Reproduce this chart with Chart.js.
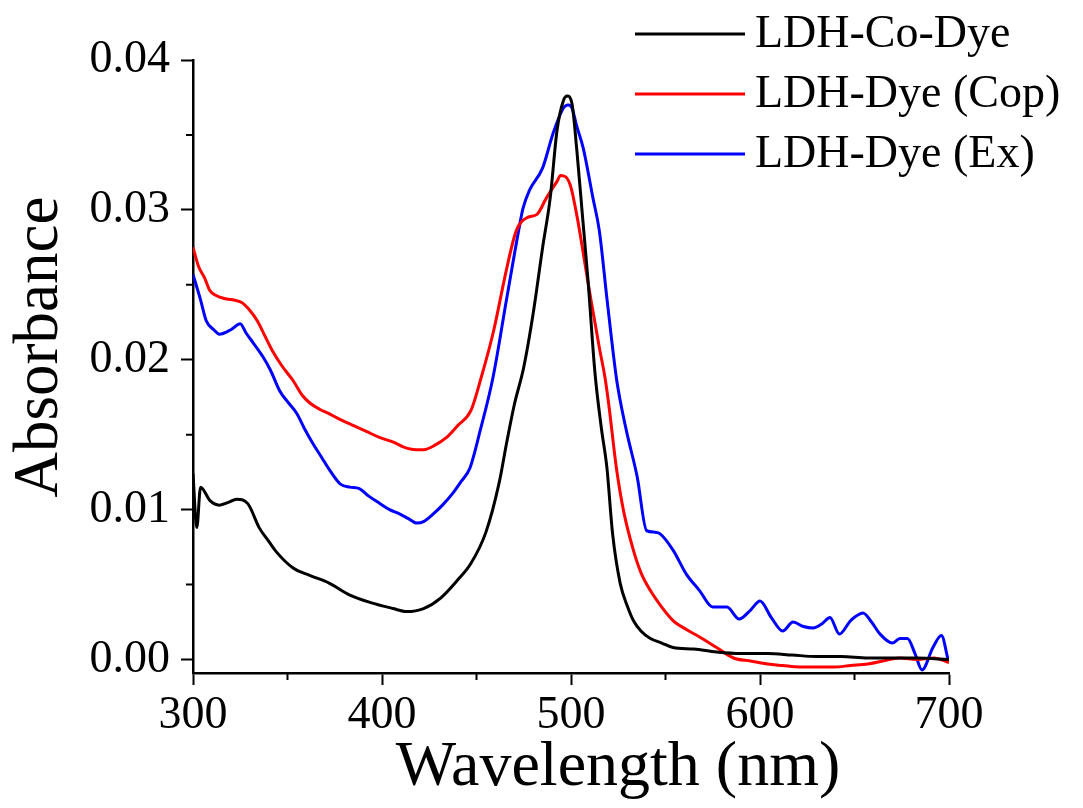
<!DOCTYPE html>
<html>
<head>
<meta charset="utf-8">
<script src="https://cdn.jsdelivr.net/npm/chart.js@4.4.1/dist/chart.umd.min.js"></script>
<style>
  body { margin: 0; background: #fff; }
  #wrap { width: 1083px; height: 808px; }
</style>
</head>
<body>
<div id="wrap"><canvas id="specChart" width="1083" height="808"></canvas></div>
<script>
// wavelengths (nm) and absorbance
const coDyeNm  = [300, 302, 304, 309, 314, 319, 323, 329, 335, 340, 344, 353, 362, 372, 383, 394, 406, 413, 422, 431, 440, 447, 455, 462, 466, 470, 475, 480, 485, 489, 492.6, 496, 498, 500.5, 503, 506, 509, 512.7, 516, 519, 522, 526, 530, 533, 537, 542, 548, 554, 565, 577, 590, 604, 617, 630, 643, 657, 670, 683, 700];
const coDyeAbs = [0.0124, 0.0088, 0.0115, 0.0106, 0.0103, 0.0105, 0.0107, 0.0104, 0.0088, 0.0079, 0.0072, 0.0061, 0.0056, 0.0051, 0.0043, 0.0038, 0.0034, 0.0032, 0.0034, 0.0041, 0.0053, 0.0064, 0.0085, 0.0118, 0.0145, 0.0170, 0.0195, 0.0231, 0.0275, 0.0308, 0.0353, 0.0373, 0.0376, 0.0371, 0.0341, 0.0297, 0.0253, 0.0191, 0.0155, 0.0128, 0.0084, 0.0051, 0.0035, 0.0026, 0.0019, 0.0014, 0.0011, 0.0008, 0.0007, 0.0005, 0.0004, 0.0004, 0.0003, 0.0002, 0.0002, 0.0001, 0.0001, 0.0001, 0.0000];

const copNm  = [300, 303, 306, 309, 312, 316, 321, 326, 330, 334, 338, 342, 347, 353, 358, 362, 367, 372, 378, 385, 392, 399, 406, 413, 418, 422, 428, 434, 440, 447, 452, 459, 466, 471, 477, 482, 487, 492.6, 494.5, 499.5, 503, 506.5, 510, 515, 518, 520, 524, 528, 533, 537, 542, 548, 554, 561, 568, 577, 586, 595, 604, 612, 621, 630, 639, 648, 657, 665, 674, 683, 692, 700];
const copAbs = [0.0275, 0.0262, 0.0255, 0.0246, 0.0243, 0.0241, 0.0240, 0.0238, 0.0233, 0.0226, 0.0216, 0.0206, 0.0196, 0.0186, 0.0176, 0.0171, 0.0167, 0.0164, 0.0160, 0.0156, 0.0152, 0.0148, 0.0145, 0.0141, 0.0140, 0.0140, 0.0143, 0.0148, 0.0156, 0.0166, 0.0186, 0.0219, 0.0261, 0.0286, 0.0295, 0.0297, 0.0308, 0.0319, 0.0323, 0.0317, 0.0297, 0.0271, 0.0244, 0.0208, 0.0188, 0.0170, 0.0128, 0.0098, 0.0073, 0.0058, 0.0046, 0.0035, 0.0026, 0.0020, 0.0015, 0.0008, 0.0001, -0.0001, -0.0003, -0.0004, -0.0005, -0.0005, -0.0005, -0.0004, -0.0003, -0.0001, 0.0001, 0.0000, 0.0001, -0.0002];

const exNm  = [300, 304, 307, 311, 314, 320, 325, 328, 332, 337, 341, 346, 350, 355, 359, 363.5, 368, 372.5, 378, 383, 388, 393, 399, 404, 409.5, 414, 418.5, 422, 427, 432, 437.5, 442, 446.6, 452, 458.7, 466, 473, 474.6, 478, 485, 490.5, 496, 498.5, 500.5, 503, 506.5, 511.6, 515, 519, 524, 526, 529.6, 535, 540, 544, 547, 554, 561, 568, 575, 582.5, 589, 595, 600, 606, 612, 617.5, 623, 628, 633, 637, 642, 648, 654.5, 659, 663.5, 670, 674, 678, 682, 685.7, 691.5, 696, 699.5];
const exAbs = [0.0257, 0.0240, 0.0226, 0.0220, 0.0217, 0.0220, 0.0224, 0.0218, 0.0211, 0.0202, 0.0193, 0.0179, 0.0172, 0.0164, 0.0154, 0.0144, 0.0135, 0.0126, 0.0117, 0.0115, 0.0114, 0.0109, 0.0104, 0.0100, 0.0097, 0.0094, 0.0091, 0.0092, 0.0097, 0.0103, 0.0111, 0.0119, 0.0128, 0.0153, 0.0188, 0.0241, 0.0291, 0.0301, 0.0313, 0.0328, 0.0351, 0.0368, 0.0370, 0.0368, 0.0356, 0.0341, 0.0308, 0.0286, 0.0241, 0.0188, 0.0173, 0.0151, 0.0122, 0.0086, 0.0085, 0.0084, 0.0073, 0.0057, 0.0046, 0.0035, 0.0035, 0.0027, 0.0033, 0.0039, 0.0028, 0.0019, 0.0025, 0.0022, 0.0021, 0.0024, 0.0028, 0.0017, 0.0026, 0.0031, 0.0025, 0.0017, 0.0011, 0.0014, 0.0014, 0.0004, -0.0007, 0.0008, 0.0016, 0.0000];

const seriesNames = ['LDH-Co-Dye', 'LDH-Dye (Cop)', 'LDH-Dye (Ex)'];
const seriesColors = ['#000000', '#ff0000', '#0000ff'];
const xTickValues = [300, 400, 500, 600, 700];
const yTickValues = [0, 0.01, 0.02, 0.03, 0.04];
const xMinorTicks = [350, 450, 550, 650];
const yMinorTicks = [0.005, 0.015, 0.025, 0.035];
const xTitle = 'Wavelength (nm)';
const yTitle = 'Absorbance';

const serif = 'Liberation Serif, Times New Roman, serif';

function toPoints(xs, ys) {
    return xs.map((x, i) => ({x: x, y: ys[i]}));
}

// minor ticks are half length, chart.js can't do that on one axis
const minorTicks = {
    id: 'minorTicks',
    afterDraw(chart) {
        const {ctx, chartArea, scales} = chart;
        ctx.save();
        ctx.strokeStyle = '#000';
        ctx.lineWidth = 2;
        ctx.beginPath();
        xMinorTicks.forEach(v => {
            const px = scales.x.getPixelForValue(v);
            ctx.moveTo(px, chartArea.bottom);
            ctx.lineTo(px, chartArea.bottom + 7);
        });
        yMinorTicks.forEach(v => {
            const py = scales.y.getPixelForValue(v);
            ctx.moveTo(chartArea.left, py);
            ctx.lineTo(chartArea.left - 7, py);
        });
        ctx.stroke();
        ctx.restore();
    }
};

// axis titles sit off-centre in the original, so place them by hand
const axisTitles = {
    id: 'axisTitles',
    afterDraw(chart) {
        const ctx = chart.ctx;
        ctx.save();
        ctx.fillStyle = '#000';
        ctx.textAlign = 'center';
        ctx.textBaseline = 'middle';
        ctx.font = '64px ' + serif;
        ctx.fillText(xTitle, 618, 768);
        ctx.translate(40, 347);
        ctx.rotate(-Math.PI / 2);
        ctx.font = '63px ' + serif;
        ctx.fillText(yTitle, 0, 0);
        ctx.restore();
    }
};

// legend as a column in the top right corner
const cornerLegend = {
    id: 'cornerLegend',
    afterDraw(chart) {
        const ctx = chart.ctx;
        ctx.save();
        ctx.font = '46px ' + serif;
        ctx.textBaseline = 'middle';
        ctx.textAlign = 'left';
        chart.data.datasets.forEach((ds, i) => {
            const y = 34 + i * 60;
            ctx.strokeStyle = ds.borderColor;
            ctx.lineWidth = 3;
            ctx.beginPath();
            ctx.moveTo(635, y);
            ctx.lineTo(745, y);
            ctx.stroke();
            ctx.fillStyle = '#000';
            ctx.fillText(ds.label, 755, y + 1);
        });
        ctx.restore();
    }
};

const ctx = document.getElementById('specChart').getContext('2d');
const specChart = new Chart(ctx, {
    type: 'line',
    data: {
        datasets: [
            {label: seriesNames[0], data: toPoints(coDyeNm, coDyeAbs), borderColor: seriesColors[0]},
            {label: seriesNames[1], data: toPoints(copNm, copAbs), borderColor: seriesColors[1]},
            {label: seriesNames[2], data: toPoints(exNm, exAbs), borderColor: seriesColors[2]}
        ]
    },
    options: {
        responsive: false,
        animation: false,
        layout: {
            padding: {top: 60, right: 134, bottom: 0, left: 0}
        },
        elements: {
            point: {radius: 0},
            line: {borderWidth: 3, cubicInterpolationMode: 'monotone'}
        },
        plugins: {
            legend: {display: false},
            tooltip: {enabled: false}
        },
        scales: {
            x: {
                type: 'linear',
                min: 300,
                max: 700,
                afterFit: (scale) => { scale.height = 135; },
                afterBuildTicks: (scale) => {
                    scale.ticks = xTickValues.map(v => ({value: v}));
                },
                border: {color: '#000', width: 2.5},
                grid: {drawOnChartArea: false, drawTicks: true, tickLength: 12, tickColor: '#000', tickWidth: 2},
                ticks: {
                    padding: 3,
                    color: '#000',
                    font: {family: serif, size: 46},
                    maxRotation: 0,
                    autoSkip: false
                }
            },
            y: {
                min: -0.0009,
                max: 0.04,
                afterFit: (scale) => { scale.width = 193; },
                afterBuildTicks: (scale) => {
                    scale.ticks = yTickValues.map(v => ({value: v}));
                },
                border: {color: '#000', width: 2.5},
                grid: {drawOnChartArea: false, drawTicks: true, tickLength: 12, tickColor: '#000', tickWidth: 2},
                ticks: {
                    padding: 11,
                    color: '#000',
                    font: {family: serif, size: 46},
                    autoSkip: false,
                    callback: (v) => Math.abs(v).toFixed(2)
                }
            }
        }
    },
    plugins: [minorTicks, axisTitles, cornerLegend]
});
</script>
</body>
</html>
